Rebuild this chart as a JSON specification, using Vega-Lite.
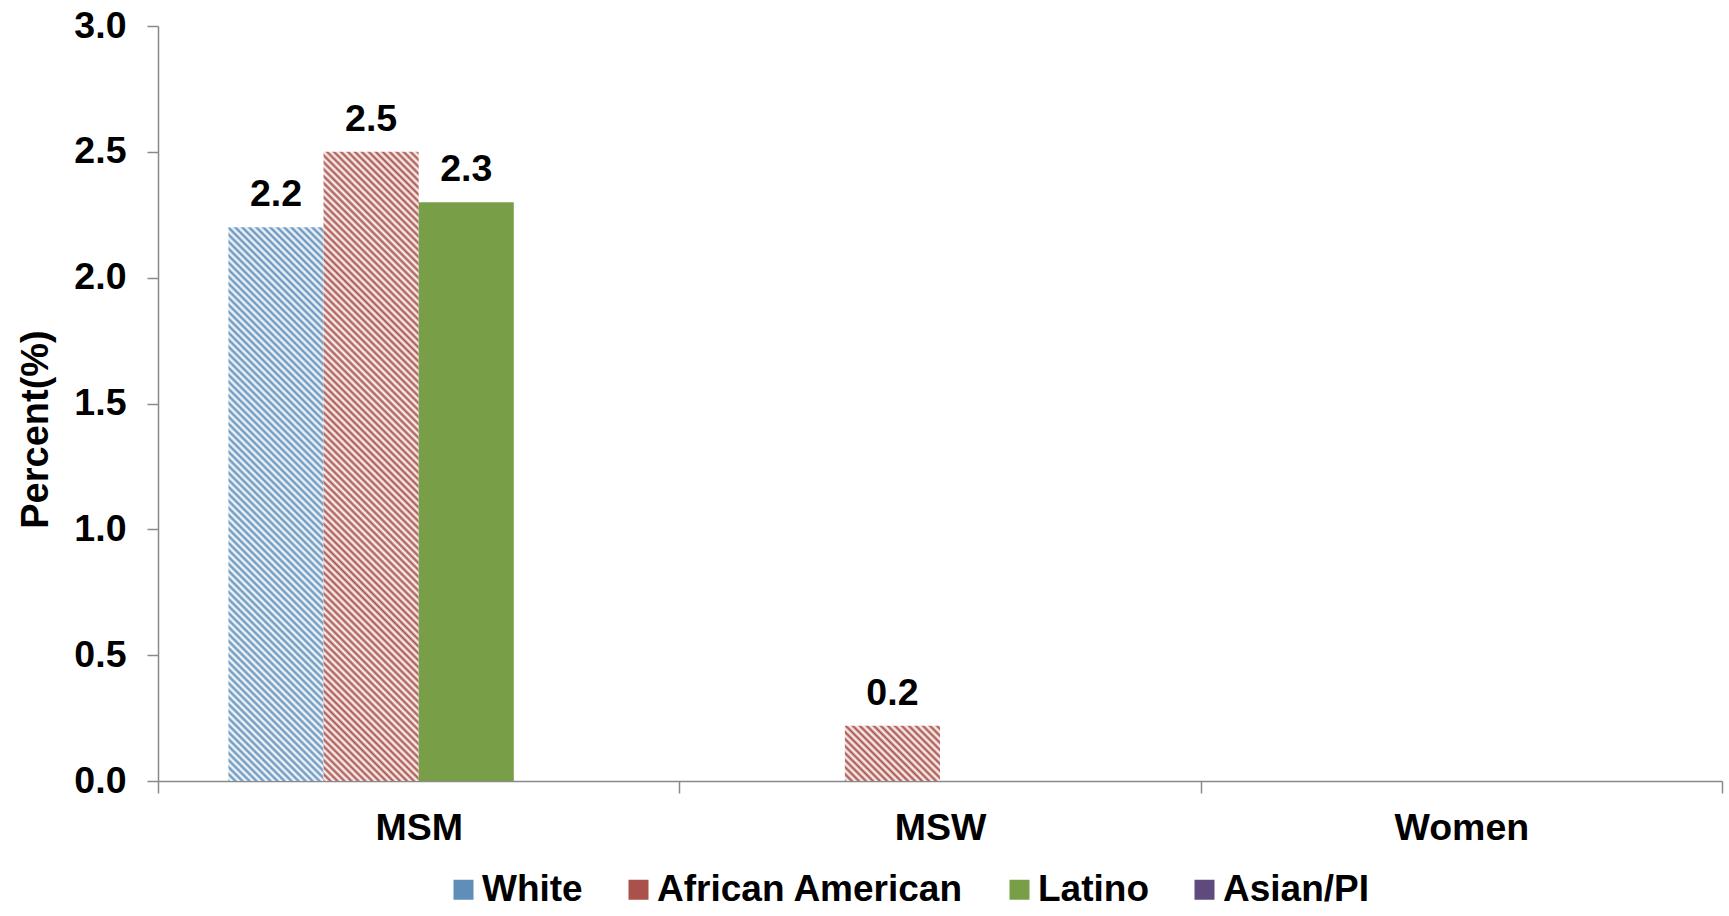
{
  "$schema": "https://vega.github.io/schema/vega-lite/v6.json",
  "autosize": {"type": "none"},
  "width": 1564,
  "height": 755,
  "padding": {"left": 158, "top": 26, "right": 7, "bottom": 135},
  "background": "white",
  "config": {"font": "Liberation Sans", "view": {"stroke": null}},
  "data": {
    "values": [
      {"group": "MSM", "race": "White", "value": 2.2},
      {"group": "MSM", "race": "African American", "value": 2.5},
      {"group": "MSM", "race": "Latino", "value": 2.3},
      {"group": "MSM", "race": "Asian/PI", "value": 0},
      {"group": "MSW", "race": "White", "value": 0},
      {"group": "MSW", "race": "African American", "value": 0.22},
      {"group": "MSW", "race": "Latino", "value": 0},
      {"group": "MSW", "race": "Asian/PI", "value": 0},
      {"group": "Women", "race": "White", "value": 0},
      {"group": "Women", "race": "African American", "value": 0},
      {"group": "Women", "race": "Latino", "value": 0},
      {"group": "Women", "race": "Asian/PI", "value": 0}
    ]
  },
  "encoding": {
    "x": {
      "field": "group",
      "type": "nominal",
      "sort": ["MSM", "MSW", "Women"],
      "scale": {"paddingInner": 0, "paddingOuter": 0},
      "axis": {
        "title": null,
        "labelAngle": 0,
        "tickBand": "extent",
        "domainColor": "#898989",
        "domainWidth": 1.5,
        "tickColor": "#898989",
        "tickWidth": 1.5,
        "tickSize": 12,
        "labelPadding": 16,
        "labelFontSize": 37.5,
        "labelFontWeight": "bold",
        "labelColor": "black"
      }
    },
    "xOffset": {
      "field": "race",
      "type": "nominal",
      "sort": ["White", "African American", "Latino", "Asian/PI"],
      "scale": {"domain": ["White", "African American", "Latino", "Asian/PI"], "paddingInner": 0, "paddingOuter": 0.74}
    },
    "y": {
      "field": "value",
      "type": "quantitative",
      "scale": {"domain": [0, 3]},
      "axis": {
        "title": "Percent(%)",
        "values": [0, 0.5, 1, 1.5, 2, 2.5, 3],
        "format": ".1f",
        "grid": false,
        "labelFlush": false,
        "domainColor": "#898989",
        "domainWidth": 1.5,
        "tickColor": "#898989",
        "tickWidth": 1.5,
        "tickSize": 11,
        "labelPadding": 21,
        "labelFontSize": 37.5,
        "labelFontWeight": "bold",
        "labelColor": "black",
        "titleFontSize": 38,
        "titleFontWeight": "bold",
        "titleColor": "black",
        "titleX": -111,
        "titleY": 403,
        "titleBaseline": "alphabetic"
      }
    }
  },
  "layer": [
    {
      "mark": {"type": "bar"},
      "encoding": {
        "fill": {
          "field": "race",
          "type": "nominal",
          "scale": {
            "domain": ["White", "African American", "Latino", "Asian/PI"],
            "range": ["#5F8FB9", "#A9514A", "#789F48", "#5E4A7D"]
          },
          "legend": {
            "orient": "none",
            "legendX": 287,
            "legendY": 845,
            "direction": "horizontal",
            "columns": 4,
            "title": null,
            "symbolType": "square",
            "symbolSize": 400,
            "symbolStrokeWidth": 0,
            "labelFontSize": 37,
            "labelFontWeight": "bold",
            "labelColor": "black",
            "labelOffset": 0,
            "labelLimit": 500,
            "columnPadding": 37
          },
          "condition": [
            {
              "test": "datum.group === 'MSW' && datum.race === 'African American'",
              "value": {
                "gradient": "linear",
                "x1": 0, "y1": 1, "x2": 1.1819, "y2": 0.3119,
                "stops": [
                  {"offset": 0, "color": "#A9514A"}, {"offset": 0.0233, "color": "#fff"}, {"offset": 0.0466, "color": "#A9514A"}, {"offset": 0.0699, "color": "#fff"},
                  {"offset": 0.0932, "color": "#A9514A"}, {"offset": 0.1165, "color": "#fff"}, {"offset": 0.1398, "color": "#A9514A"}, {"offset": 0.1631, "color": "#fff"},
                  {"offset": 0.1864, "color": "#A9514A"}, {"offset": 0.2097, "color": "#fff"}, {"offset": 0.233, "color": "#A9514A"}, {"offset": 0.2563, "color": "#fff"},
                  {"offset": 0.2796, "color": "#A9514A"}, {"offset": 0.3029, "color": "#fff"}, {"offset": 0.3262, "color": "#A9514A"}, {"offset": 0.3495, "color": "#fff"},
                  {"offset": 0.3728, "color": "#A9514A"}, {"offset": 0.3961, "color": "#fff"}, {"offset": 0.4194, "color": "#A9514A"}, {"offset": 0.4427, "color": "#fff"},
                  {"offset": 0.466, "color": "#A9514A"}, {"offset": 0.4893, "color": "#fff"}, {"offset": 0.5126, "color": "#A9514A"}, {"offset": 0.5359, "color": "#fff"},
                  {"offset": 0.5592, "color": "#A9514A"}, {"offset": 0.5825, "color": "#fff"}, {"offset": 0.6058, "color": "#A9514A"}, {"offset": 0.6291, "color": "#fff"},
                  {"offset": 0.6524, "color": "#A9514A"}, {"offset": 0.6757, "color": "#fff"}, {"offset": 0.699, "color": "#A9514A"}, {"offset": 0.7223, "color": "#fff"},
                  {"offset": 0.7456, "color": "#A9514A"}, {"offset": 0.7689, "color": "#fff"}, {"offset": 0.7922, "color": "#A9514A"}, {"offset": 0.8155, "color": "#fff"},
                  {"offset": 0.8388, "color": "#A9514A"}, {"offset": 0.8621, "color": "#fff"}, {"offset": 0.8854, "color": "#A9514A"}, {"offset": 0.9087, "color": "#fff"},
                  {"offset": 0.932, "color": "#A9514A"}, {"offset": 0.9553, "color": "#fff"}, {"offset": 0.9786, "color": "#A9514A"}, {"offset": 1, "color": "#fff"}
                ]
              }
            },
            {
              "test": "datum.group === 'MSM' && datum.race === 'White'",
              "value": {
                "gradient": "linear",
                "x1": 0, "y1": 1, "x2": 0.19557, "y2": -0.13823,
                "stops": [
                  {"offset": 0, "color": "#5F8FB9"}, {"offset": 0.0054, "color": "#fff"}, {"offset": 0.0108, "color": "#5F8FB9"}, {"offset": 0.0162, "color": "#fff"},
                  {"offset": 0.0216, "color": "#5F8FB9"}, {"offset": 0.027, "color": "#fff"}, {"offset": 0.0324, "color": "#5F8FB9"}, {"offset": 0.0378, "color": "#fff"},
                  {"offset": 0.0432, "color": "#5F8FB9"}, {"offset": 0.0486, "color": "#fff"}, {"offset": 0.054, "color": "#5F8FB9"}, {"offset": 0.0594, "color": "#fff"},
                  {"offset": 0.0648, "color": "#5F8FB9"}, {"offset": 0.0702, "color": "#fff"}, {"offset": 0.0756, "color": "#5F8FB9"}, {"offset": 0.081, "color": "#fff"},
                  {"offset": 0.0864, "color": "#5F8FB9"}, {"offset": 0.0918, "color": "#fff"}, {"offset": 0.0972, "color": "#5F8FB9"}, {"offset": 0.1026, "color": "#fff"},
                  {"offset": 0.108, "color": "#5F8FB9"}, {"offset": 0.1134, "color": "#fff"}, {"offset": 0.1188, "color": "#5F8FB9"}, {"offset": 0.1242, "color": "#fff"},
                  {"offset": 0.1296, "color": "#5F8FB9"}, {"offset": 0.135, "color": "#fff"}, {"offset": 0.1404, "color": "#5F8FB9"}, {"offset": 0.1458, "color": "#fff"},
                  {"offset": 0.1512, "color": "#5F8FB9"}, {"offset": 0.1566, "color": "#fff"}, {"offset": 0.162, "color": "#5F8FB9"}, {"offset": 0.1674, "color": "#fff"},
                  {"offset": 0.1728, "color": "#5F8FB9"}, {"offset": 0.1782, "color": "#fff"}, {"offset": 0.1836, "color": "#5F8FB9"}, {"offset": 0.189, "color": "#fff"},
                  {"offset": 0.1944, "color": "#5F8FB9"}, {"offset": 0.1998, "color": "#fff"}, {"offset": 0.2052, "color": "#5F8FB9"}, {"offset": 0.2106, "color": "#fff"},
                  {"offset": 0.216, "color": "#5F8FB9"}, {"offset": 0.2214, "color": "#fff"}, {"offset": 0.2268, "color": "#5F8FB9"}, {"offset": 0.2322, "color": "#fff"},
                  {"offset": 0.2376, "color": "#5F8FB9"}, {"offset": 0.243, "color": "#fff"}, {"offset": 0.2484, "color": "#5F8FB9"}, {"offset": 0.2538, "color": "#fff"},
                  {"offset": 0.2592, "color": "#5F8FB9"}, {"offset": 0.2646, "color": "#fff"}, {"offset": 0.27, "color": "#5F8FB9"}, {"offset": 0.2754, "color": "#fff"},
                  {"offset": 0.2808, "color": "#5F8FB9"}, {"offset": 0.2862, "color": "#fff"}, {"offset": 0.2916, "color": "#5F8FB9"}, {"offset": 0.297, "color": "#fff"},
                  {"offset": 0.3024, "color": "#5F8FB9"}, {"offset": 0.3078, "color": "#fff"}, {"offset": 0.3132, "color": "#5F8FB9"}, {"offset": 0.3186, "color": "#fff"},
                  {"offset": 0.324, "color": "#5F8FB9"}, {"offset": 0.3294, "color": "#fff"}, {"offset": 0.3348, "color": "#5F8FB9"}, {"offset": 0.3402, "color": "#fff"},
                  {"offset": 0.3456, "color": "#5F8FB9"}, {"offset": 0.351, "color": "#fff"}, {"offset": 0.3564, "color": "#5F8FB9"}, {"offset": 0.3618, "color": "#fff"},
                  {"offset": 0.3672, "color": "#5F8FB9"}, {"offset": 0.3726, "color": "#fff"}, {"offset": 0.378, "color": "#5F8FB9"}, {"offset": 0.3834, "color": "#fff"},
                  {"offset": 0.3888, "color": "#5F8FB9"}, {"offset": 0.3942, "color": "#fff"}, {"offset": 0.3996, "color": "#5F8FB9"}, {"offset": 0.405, "color": "#fff"},
                  {"offset": 0.4104, "color": "#5F8FB9"}, {"offset": 0.4158, "color": "#fff"}, {"offset": 0.4212, "color": "#5F8FB9"}, {"offset": 0.4266, "color": "#fff"},
                  {"offset": 0.432, "color": "#5F8FB9"}, {"offset": 0.4374, "color": "#fff"}, {"offset": 0.4428, "color": "#5F8FB9"}, {"offset": 0.4482, "color": "#fff"},
                  {"offset": 0.4536, "color": "#5F8FB9"}, {"offset": 0.459, "color": "#fff"}, {"offset": 0.4644, "color": "#5F8FB9"}, {"offset": 0.4698, "color": "#fff"},
                  {"offset": 0.4752, "color": "#5F8FB9"}, {"offset": 0.4806, "color": "#fff"}, {"offset": 0.486, "color": "#5F8FB9"}, {"offset": 0.4914, "color": "#fff"},
                  {"offset": 0.4968, "color": "#5F8FB9"}, {"offset": 0.5022, "color": "#fff"}, {"offset": 0.5076, "color": "#5F8FB9"}, {"offset": 0.513, "color": "#fff"},
                  {"offset": 0.5184, "color": "#5F8FB9"}, {"offset": 0.5238, "color": "#fff"}, {"offset": 0.5292, "color": "#5F8FB9"}, {"offset": 0.5346, "color": "#fff"},
                  {"offset": 0.54, "color": "#5F8FB9"}, {"offset": 0.5454, "color": "#fff"}, {"offset": 0.5508, "color": "#5F8FB9"}, {"offset": 0.5562, "color": "#fff"},
                  {"offset": 0.5616, "color": "#5F8FB9"}, {"offset": 0.567, "color": "#fff"}, {"offset": 0.5724, "color": "#5F8FB9"}, {"offset": 0.5778, "color": "#fff"},
                  {"offset": 0.5832, "color": "#5F8FB9"}, {"offset": 0.5886, "color": "#fff"}, {"offset": 0.594, "color": "#5F8FB9"}, {"offset": 0.5994, "color": "#fff"},
                  {"offset": 0.6048, "color": "#5F8FB9"}, {"offset": 0.6102, "color": "#fff"}, {"offset": 0.6156, "color": "#5F8FB9"}, {"offset": 0.621, "color": "#fff"},
                  {"offset": 0.6264, "color": "#5F8FB9"}, {"offset": 0.6318, "color": "#fff"}, {"offset": 0.6372, "color": "#5F8FB9"}, {"offset": 0.6426, "color": "#fff"},
                  {"offset": 0.648, "color": "#5F8FB9"}, {"offset": 0.6534, "color": "#fff"}, {"offset": 0.6588, "color": "#5F8FB9"}, {"offset": 0.6642, "color": "#fff"},
                  {"offset": 0.6696, "color": "#5F8FB9"}, {"offset": 0.675, "color": "#fff"}, {"offset": 0.6804, "color": "#5F8FB9"}, {"offset": 0.6858, "color": "#fff"},
                  {"offset": 0.6912, "color": "#5F8FB9"}, {"offset": 0.6966, "color": "#fff"}, {"offset": 0.702, "color": "#5F8FB9"}, {"offset": 0.7074, "color": "#fff"},
                  {"offset": 0.7128, "color": "#5F8FB9"}, {"offset": 0.7182, "color": "#fff"}, {"offset": 0.7236, "color": "#5F8FB9"}, {"offset": 0.729, "color": "#fff"},
                  {"offset": 0.7344, "color": "#5F8FB9"}, {"offset": 0.7398, "color": "#fff"}, {"offset": 0.7452, "color": "#5F8FB9"}, {"offset": 0.7506, "color": "#fff"},
                  {"offset": 0.756, "color": "#5F8FB9"}, {"offset": 0.7614, "color": "#fff"}, {"offset": 0.7668, "color": "#5F8FB9"}, {"offset": 0.7722, "color": "#fff"},
                  {"offset": 0.7776, "color": "#5F8FB9"}, {"offset": 0.783, "color": "#fff"}, {"offset": 0.7884, "color": "#5F8FB9"}, {"offset": 0.7938, "color": "#fff"},
                  {"offset": 0.7992, "color": "#5F8FB9"}, {"offset": 0.8046, "color": "#fff"}, {"offset": 0.81, "color": "#5F8FB9"}, {"offset": 0.8154, "color": "#fff"},
                  {"offset": 0.8208, "color": "#5F8FB9"}, {"offset": 0.8262, "color": "#fff"}, {"offset": 0.8316, "color": "#5F8FB9"}, {"offset": 0.837, "color": "#fff"},
                  {"offset": 0.8424, "color": "#5F8FB9"}, {"offset": 0.8478, "color": "#fff"}, {"offset": 0.8532, "color": "#5F8FB9"}, {"offset": 0.8586, "color": "#fff"},
                  {"offset": 0.864, "color": "#5F8FB9"}, {"offset": 0.8694, "color": "#fff"}, {"offset": 0.8748, "color": "#5F8FB9"}, {"offset": 0.8802, "color": "#fff"},
                  {"offset": 0.8856, "color": "#5F8FB9"}, {"offset": 0.891, "color": "#fff"}, {"offset": 0.8964, "color": "#5F8FB9"}, {"offset": 0.9018, "color": "#fff"},
                  {"offset": 0.9072, "color": "#5F8FB9"}, {"offset": 0.9126, "color": "#fff"}, {"offset": 0.918, "color": "#5F8FB9"}, {"offset": 0.9234, "color": "#fff"},
                  {"offset": 0.9288, "color": "#5F8FB9"}, {"offset": 0.9342, "color": "#fff"}, {"offset": 0.9396, "color": "#5F8FB9"}, {"offset": 0.945, "color": "#fff"},
                  {"offset": 0.9504, "color": "#5F8FB9"}, {"offset": 0.9558, "color": "#fff"}, {"offset": 0.9612, "color": "#5F8FB9"}, {"offset": 0.9666, "color": "#fff"},
                  {"offset": 0.972, "color": "#5F8FB9"}, {"offset": 0.9774, "color": "#fff"}, {"offset": 0.9828, "color": "#5F8FB9"}, {"offset": 0.9882, "color": "#fff"},
                  {"offset": 0.9936, "color": "#5F8FB9"}, {"offset": 0.999, "color": "#fff"}, {"offset": 1, "color": "#5F8FB9"}
                ]
              }
            },
            {
              "test": "datum.group === 'MSM' && datum.race === 'African American'",
              "value": {
                "gradient": "linear",
                "x1": 0, "y1": 1, "x2": 0.17017, "y2": -0.12547,
                "stops": [
                  {"offset": 0, "color": "#A9514A"}, {"offset": 0.0048, "color": "#fff"}, {"offset": 0.0096, "color": "#A9514A"}, {"offset": 0.0144, "color": "#fff"},
                  {"offset": 0.0192, "color": "#A9514A"}, {"offset": 0.024, "color": "#fff"}, {"offset": 0.0288, "color": "#A9514A"}, {"offset": 0.0336, "color": "#fff"},
                  {"offset": 0.0384, "color": "#A9514A"}, {"offset": 0.0432, "color": "#fff"}, {"offset": 0.048, "color": "#A9514A"}, {"offset": 0.0528, "color": "#fff"},
                  {"offset": 0.0576, "color": "#A9514A"}, {"offset": 0.0624, "color": "#fff"}, {"offset": 0.0672, "color": "#A9514A"}, {"offset": 0.072, "color": "#fff"},
                  {"offset": 0.0768, "color": "#A9514A"}, {"offset": 0.0816, "color": "#fff"}, {"offset": 0.0864, "color": "#A9514A"}, {"offset": 0.0912, "color": "#fff"},
                  {"offset": 0.096, "color": "#A9514A"}, {"offset": 0.1008, "color": "#fff"}, {"offset": 0.1056, "color": "#A9514A"}, {"offset": 0.1104, "color": "#fff"},
                  {"offset": 0.1152, "color": "#A9514A"}, {"offset": 0.12, "color": "#fff"}, {"offset": 0.1248, "color": "#A9514A"}, {"offset": 0.1296, "color": "#fff"},
                  {"offset": 0.1344, "color": "#A9514A"}, {"offset": 0.1392, "color": "#fff"}, {"offset": 0.144, "color": "#A9514A"}, {"offset": 0.1488, "color": "#fff"},
                  {"offset": 0.1536, "color": "#A9514A"}, {"offset": 0.1584, "color": "#fff"}, {"offset": 0.1632, "color": "#A9514A"}, {"offset": 0.168, "color": "#fff"},
                  {"offset": 0.1728, "color": "#A9514A"}, {"offset": 0.1776, "color": "#fff"}, {"offset": 0.1824, "color": "#A9514A"}, {"offset": 0.1872, "color": "#fff"},
                  {"offset": 0.192, "color": "#A9514A"}, {"offset": 0.1968, "color": "#fff"}, {"offset": 0.2016, "color": "#A9514A"}, {"offset": 0.2064, "color": "#fff"},
                  {"offset": 0.2112, "color": "#A9514A"}, {"offset": 0.216, "color": "#fff"}, {"offset": 0.2208, "color": "#A9514A"}, {"offset": 0.2256, "color": "#fff"},
                  {"offset": 0.2304, "color": "#A9514A"}, {"offset": 0.2352, "color": "#fff"}, {"offset": 0.24, "color": "#A9514A"}, {"offset": 0.2448, "color": "#fff"},
                  {"offset": 0.2496, "color": "#A9514A"}, {"offset": 0.2544, "color": "#fff"}, {"offset": 0.2592, "color": "#A9514A"}, {"offset": 0.264, "color": "#fff"},
                  {"offset": 0.2688, "color": "#A9514A"}, {"offset": 0.2736, "color": "#fff"}, {"offset": 0.2784, "color": "#A9514A"}, {"offset": 0.2832, "color": "#fff"},
                  {"offset": 0.288, "color": "#A9514A"}, {"offset": 0.2928, "color": "#fff"}, {"offset": 0.2976, "color": "#A9514A"}, {"offset": 0.3024, "color": "#fff"},
                  {"offset": 0.3072, "color": "#A9514A"}, {"offset": 0.312, "color": "#fff"}, {"offset": 0.3168, "color": "#A9514A"}, {"offset": 0.3216, "color": "#fff"},
                  {"offset": 0.3264, "color": "#A9514A"}, {"offset": 0.3312, "color": "#fff"}, {"offset": 0.336, "color": "#A9514A"}, {"offset": 0.3408, "color": "#fff"},
                  {"offset": 0.3456, "color": "#A9514A"}, {"offset": 0.3504, "color": "#fff"}, {"offset": 0.3552, "color": "#A9514A"}, {"offset": 0.36, "color": "#fff"},
                  {"offset": 0.3648, "color": "#A9514A"}, {"offset": 0.3696, "color": "#fff"}, {"offset": 0.3744, "color": "#A9514A"}, {"offset": 0.3792, "color": "#fff"},
                  {"offset": 0.384, "color": "#A9514A"}, {"offset": 0.3888, "color": "#fff"}, {"offset": 0.3936, "color": "#A9514A"}, {"offset": 0.3984, "color": "#fff"},
                  {"offset": 0.4032, "color": "#A9514A"}, {"offset": 0.408, "color": "#fff"}, {"offset": 0.4128, "color": "#A9514A"}, {"offset": 0.4176, "color": "#fff"},
                  {"offset": 0.4224, "color": "#A9514A"}, {"offset": 0.4272, "color": "#fff"}, {"offset": 0.432, "color": "#A9514A"}, {"offset": 0.4368, "color": "#fff"},
                  {"offset": 0.4416, "color": "#A9514A"}, {"offset": 0.4464, "color": "#fff"}, {"offset": 0.4512, "color": "#A9514A"}, {"offset": 0.456, "color": "#fff"},
                  {"offset": 0.4608, "color": "#A9514A"}, {"offset": 0.4656, "color": "#fff"}, {"offset": 0.4704, "color": "#A9514A"}, {"offset": 0.4752, "color": "#fff"},
                  {"offset": 0.48, "color": "#A9514A"}, {"offset": 0.4848, "color": "#fff"}, {"offset": 0.4896, "color": "#A9514A"}, {"offset": 0.4944, "color": "#fff"},
                  {"offset": 0.4992, "color": "#A9514A"}, {"offset": 0.504, "color": "#fff"}, {"offset": 0.5088, "color": "#A9514A"}, {"offset": 0.5136, "color": "#fff"},
                  {"offset": 0.5184, "color": "#A9514A"}, {"offset": 0.5232, "color": "#fff"}, {"offset": 0.528, "color": "#A9514A"}, {"offset": 0.5328, "color": "#fff"},
                  {"offset": 0.5376, "color": "#A9514A"}, {"offset": 0.5424, "color": "#fff"}, {"offset": 0.5472, "color": "#A9514A"}, {"offset": 0.552, "color": "#fff"},
                  {"offset": 0.5568, "color": "#A9514A"}, {"offset": 0.5616, "color": "#fff"}, {"offset": 0.5664, "color": "#A9514A"}, {"offset": 0.5712, "color": "#fff"},
                  {"offset": 0.576, "color": "#A9514A"}, {"offset": 0.5808, "color": "#fff"}, {"offset": 0.5856, "color": "#A9514A"}, {"offset": 0.5904, "color": "#fff"},
                  {"offset": 0.5952, "color": "#A9514A"}, {"offset": 0.6, "color": "#fff"}, {"offset": 0.6048, "color": "#A9514A"}, {"offset": 0.6096, "color": "#fff"},
                  {"offset": 0.6144, "color": "#A9514A"}, {"offset": 0.6192, "color": "#fff"}, {"offset": 0.624, "color": "#A9514A"}, {"offset": 0.6288, "color": "#fff"},
                  {"offset": 0.6336, "color": "#A9514A"}, {"offset": 0.6384, "color": "#fff"}, {"offset": 0.6432, "color": "#A9514A"}, {"offset": 0.648, "color": "#fff"},
                  {"offset": 0.6528, "color": "#A9514A"}, {"offset": 0.6576, "color": "#fff"}, {"offset": 0.6624, "color": "#A9514A"}, {"offset": 0.6672, "color": "#fff"},
                  {"offset": 0.672, "color": "#A9514A"}, {"offset": 0.6768, "color": "#fff"}, {"offset": 0.6816, "color": "#A9514A"}, {"offset": 0.6864, "color": "#fff"},
                  {"offset": 0.6912, "color": "#A9514A"}, {"offset": 0.696, "color": "#fff"}, {"offset": 0.7008, "color": "#A9514A"}, {"offset": 0.7056, "color": "#fff"},
                  {"offset": 0.7104, "color": "#A9514A"}, {"offset": 0.7152, "color": "#fff"}, {"offset": 0.72, "color": "#A9514A"}, {"offset": 0.7248, "color": "#fff"},
                  {"offset": 0.7296, "color": "#A9514A"}, {"offset": 0.7344, "color": "#fff"}, {"offset": 0.7392, "color": "#A9514A"}, {"offset": 0.744, "color": "#fff"},
                  {"offset": 0.7488, "color": "#A9514A"}, {"offset": 0.7536, "color": "#fff"}, {"offset": 0.7584, "color": "#A9514A"}, {"offset": 0.7632, "color": "#fff"},
                  {"offset": 0.768, "color": "#A9514A"}, {"offset": 0.7728, "color": "#fff"}, {"offset": 0.7776, "color": "#A9514A"}, {"offset": 0.7824, "color": "#fff"},
                  {"offset": 0.7872, "color": "#A9514A"}, {"offset": 0.792, "color": "#fff"}, {"offset": 0.7968, "color": "#A9514A"}, {"offset": 0.8016, "color": "#fff"},
                  {"offset": 0.8064, "color": "#A9514A"}, {"offset": 0.8112, "color": "#fff"}, {"offset": 0.816, "color": "#A9514A"}, {"offset": 0.8208, "color": "#fff"},
                  {"offset": 0.8256, "color": "#A9514A"}, {"offset": 0.8304, "color": "#fff"}, {"offset": 0.8352, "color": "#A9514A"}, {"offset": 0.84, "color": "#fff"},
                  {"offset": 0.8448, "color": "#A9514A"}, {"offset": 0.8496, "color": "#fff"}, {"offset": 0.8544, "color": "#A9514A"}, {"offset": 0.8592, "color": "#fff"},
                  {"offset": 0.864, "color": "#A9514A"}, {"offset": 0.8688, "color": "#fff"}, {"offset": 0.8736, "color": "#A9514A"}, {"offset": 0.8784, "color": "#fff"},
                  {"offset": 0.8832, "color": "#A9514A"}, {"offset": 0.888, "color": "#fff"}, {"offset": 0.8928, "color": "#A9514A"}, {"offset": 0.8976, "color": "#fff"},
                  {"offset": 0.9024, "color": "#A9514A"}, {"offset": 0.9072, "color": "#fff"}, {"offset": 0.912, "color": "#A9514A"}, {"offset": 0.9168, "color": "#fff"},
                  {"offset": 0.9216, "color": "#A9514A"}, {"offset": 0.9264, "color": "#fff"}, {"offset": 0.9312, "color": "#A9514A"}, {"offset": 0.936, "color": "#fff"},
                  {"offset": 0.9408, "color": "#A9514A"}, {"offset": 0.9456, "color": "#fff"}, {"offset": 0.9504, "color": "#A9514A"}, {"offset": 0.9552, "color": "#fff"},
                  {"offset": 0.96, "color": "#A9514A"}, {"offset": 0.9648, "color": "#fff"}, {"offset": 0.9696, "color": "#A9514A"}, {"offset": 0.9744, "color": "#fff"},
                  {"offset": 0.9792, "color": "#A9514A"}, {"offset": 0.984, "color": "#fff"}, {"offset": 0.9888, "color": "#A9514A"}, {"offset": 0.9936, "color": "#fff"},
                  {"offset": 0.9984, "color": "#A9514A"}, {"offset": 1, "color": "#fff"}
                ]
              }
            }
          ]
        }
      }
    },
    {
      "transform": [{"filter": "datum.value > 0"}],
      "mark": {"type": "text", "baseline": "alphabetic", "dy": -21, "fontSize": 37.5, "fontWeight": "bold", "color": "black"},
      "encoding": {
        "text": {"field": "value", "type": "quantitative", "format": ".1f"}
      }
    }
  ]
}
